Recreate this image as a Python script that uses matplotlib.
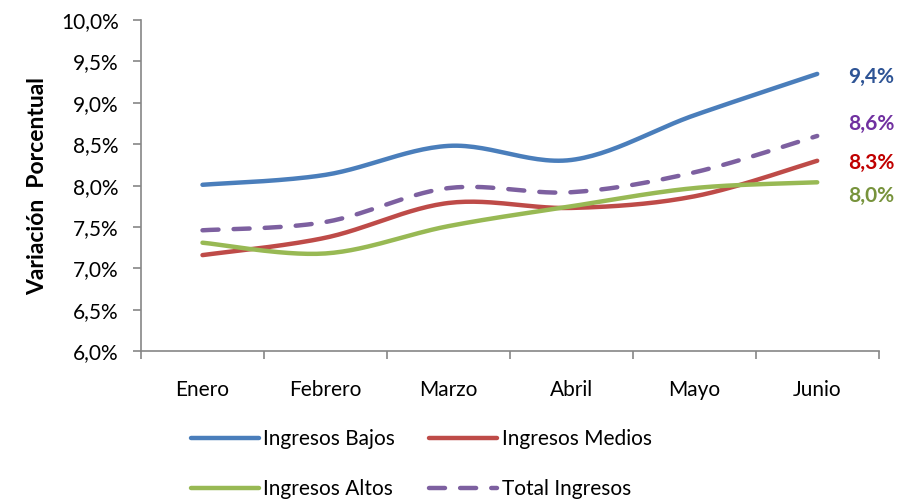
import numpy as np
import matplotlib.pyplot as plt
from matplotlib.ticker import FixedLocator, FuncFormatter

meses = ['Enero', 'Febrero', 'Marzo', 'Abril', 'Mayo', 'Junio']
bajos = [8.01, 8.13, 8.48, 8.31, 8.85, 9.35]
medios = [7.16, 7.37, 7.79, 7.73, 7.87, 8.30]
altos = [7.31, 7.18, 7.51, 7.75, 7.97, 8.04]
total = [7.46, 7.56, 7.97, 7.92, 8.16, 8.60]
etiquetas_fin = ['9,4%', '8,3%', '8,0%', '8,6%']

plt.rcParams['font.family'] = ['Lato', 'DejaVu Sans']


def suave(y, n=30):
    # curva tipo Excel (Bezier con tangentes Catmull-Rom) entre los puntos
    y = np.asarray(y, float)
    x = np.arange(len(y), dtype=float)
    xs, ys = [], []
    for i in range(len(y) - 1):
        p0 = np.array([x[max(i - 1, 0)], y[max(i - 1, 0)]])
        p1 = np.array([x[i], y[i]])
        p2 = np.array([x[i + 1], y[i + 1]])
        p3 = np.array([x[min(i + 2, len(y) - 1)], y[min(i + 2, len(y) - 1)]])
        c1 = p1 + (p2 - p0) / 6
        c2 = p2 - (p3 - p1) / 6
        t = np.linspace(0, 1, n)[:, None]
        pts = (1 - t) ** 3 * p1 + 3 * (1 - t) ** 2 * t * c1 + 3 * (1 - t) * t ** 2 * c2 + t ** 3 * p2
        xs.extend(pts[:, 0])
        ys.extend(pts[:, 1])
    return np.array(xs), np.array(ys)


fig = plt.figure(figsize=(9.04, 5.03), dpi=100)
ax = fig.add_axes([0.156, 0.302, 0.816, 0.658])

series = [
    (bajos, '#4A7EBB', '-', 'Ingresos Bajos'),
    (medios, '#BE4B48', '-', 'Ingresos Medios'),
    (altos, '#98B954', '-', 'Ingresos Altos'),
    (total, '#7D60A0', '--', 'Total Ingresos'),
]
lineas = []
for vals, col, ls, lab in series:
    xs, ys = suave(vals)
    line, = ax.plot(xs, ys, color=col, lw=3.2, ls=ls, label=lab,
                    solid_capstyle='round', dash_capstyle='round')
    if ls == '--':
        line.set_dashes((3.6, 3.4))
    lineas.append(line)

colores_txt = ['#2E5495', '#C00000', '#77933C', '#7030A0']
ajuste = {'9,4%': -0.04, '8,3%': -0.03, '8,0%': -0.17, '8,6%': 0.15}
for vals, txt, col in zip([bajos, medios, altos, total], etiquetas_fin, colores_txt):
    ax.text(5.44, vals[-1] + ajuste[txt], txt, color=col, fontsize=15,
            fontweight='bold', ha='center', va='center')

ax.set_xlim(-0.5, 5.5)
ax.set_ylim(6.0, 10.0)
ax.set_yticks(np.arange(6.0, 10.01, 0.5))
ax.yaxis.set_major_formatter(FuncFormatter(lambda v, p: f'{v:.1f}%'.replace('.', ',')))
ax.set_xticks(range(len(meses)))
ax.set_xticklabels(meses)
ax.xaxis.set_minor_locator(FixedLocator(np.arange(-0.5, 5.6, 1)))
ax.tick_params(axis='x', which='major', length=0, pad=21, labelsize=15)
ax.tick_params(axis='x', which='minor', length=6, direction='out', color='#868686', width=1.2)
ax.tick_params(axis='y', length=6, direction='out', color='#868686', width=1.2, labelsize=15, pad=10)

for s in ['top', 'right']:
    ax.spines[s].set_visible(False)
for s in ['left', 'bottom']:
    ax.spines[s].set_color('#868686')
    ax.spines[s].set_linewidth(1.2)

ax.set_ylabel('Variación  Porcentual', fontsize=16.5, fontweight='bold', labelpad=9)

orden = [lineas[0], lineas[2], lineas[1], lineas[3]]
fig.legend(orden, [l.get_label() for l in orden], loc='lower left',
           bbox_to_anchor=(0.19, -0.03), ncol=2, frameon=False,
           fontsize=15, handlelength=3.3, handletextpad=0.2, columnspacing=1.6,
           labelspacing=1.45)

fig.savefig('out.png', dpi=100)
